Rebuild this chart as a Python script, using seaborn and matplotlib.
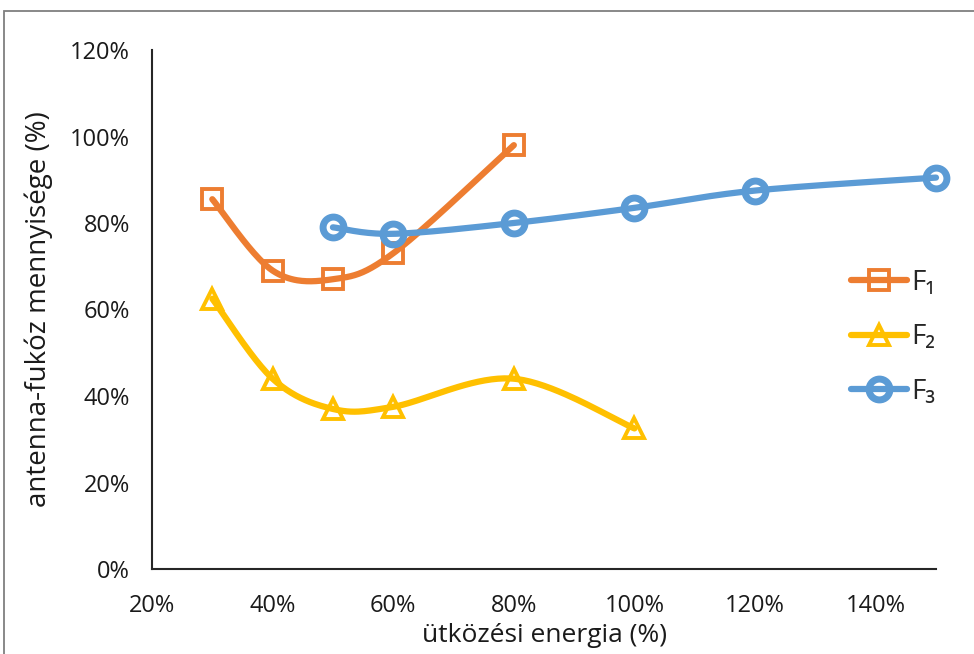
import numpy as np
import pandas as pd
import matplotlib
matplotlib.use("Agg")
import matplotlib.pyplot as plt
from matplotlib.patches import Rectangle
from matplotlib.lines import Line2D
from matplotlib.ticker import FuncFormatter, MultipleLocator
import seaborn as sns

# Collision energy (%) and antenna fucose amount (%) per fraction
f1_x = [30, 40, 50, 60, 80]
f1_y = [85.5, 69, 67, 73, 98]
f2_x = [30, 40, 50, 60, 80, 100]
f2_y = [62.5, 44, 37, 37.5, 44, 32.5]
f3_x = [50, 60, 80, 100, 120, 150]
f3_y = [79, 77.5, 80, 83.5, 87.5, 90.5]

series_names = ["F\u2081", "F\u2082", "F\u2083"]
x_ticks = [20, 40, 60, 80, 100, 120, 140]
x_label = "ütközési energia (%)"
y_label = "antenna-fukóz mennyisége (%)"

sns.set_theme(style="white")
plt.rcParams["font.family"] = ["Open Sans", "DejaVu Sans"]


def smooth(xs, ys, n=40):
    """Cubic Bezier smoothing through every point (Catmull-Rom style)."""
    p = np.column_stack([xs, ys]).astype(float)
    p_ext = np.vstack([p[0], p, p[-1]])
    out = []
    for i in range(len(p) - 1):
        p0, p1, p2, p3 = p_ext[i], p_ext[i + 1], p_ext[i + 2], p_ext[i + 3]
        c1 = p1 + (p2 - p0) / 6.0
        c2 = p2 - (p3 - p1) / 6.0
        t = np.linspace(0, 1, n)[:, None]
        seg = ((1 - t) ** 3) * p1 + 3 * ((1 - t) ** 2) * t * c1 + 3 * (1 - t) * t ** 2 * c2 + t ** 3 * p2
        out.append(seg if i == 0 else seg[1:])
    s = np.vstack(out)
    return s[:, 0], s[:, 1]


fig = plt.figure(figsize=(9.74, 6.54), dpi=100)
ax = fig.add_axes([152 / 974, 1 - 569 / 654, (936 - 152) / 974, (569 - 50) / 654])

styles = [
    (f1_x, f1_y, "#ED7D31", "s", 14, 2.8),
    (f2_x, f2_y, "#FFC000", "^", 15, 2.8),
    (f3_x, f3_y, "#5B9BD5", "o", 15, 5.0),
]

handles = []
for (xs, ys, color, marker, ms, mew), name in zip(styles, series_names):
    sx, sy = smooth(xs, ys)
    df = pd.DataFrame({"x": sx, "y": sy})
    sns.lineplot(data=df, x="x", y="y", ax=ax, color=color, lw=4.5, sort=False,
                 estimator=None, solid_capstyle="round", clip_on=False)
    ax.plot(xs, ys, ls="none", marker=marker, ms=ms, mfc="none", mec=color, mew=mew,
            zorder=3, clip_on=False)
    handles.append(Line2D([0], [0], color=color, lw=4.5, marker=marker, ms=ms,
                          mfc="none", mec=color, mew=mew, solid_capstyle="round"))

ax.set_xlim(20, 150)
ax.set_ylim(0, 120)
ax.set_xticks(x_ticks)
ax.yaxis.set_major_locator(MultipleLocator(20))
pct = FuncFormatter(lambda v, _: f"{v:.0f}%")
ax.xaxis.set_major_formatter(pct)
ax.yaxis.set_major_formatter(pct)

for side in ["top", "right"]:
    ax.spines[side].set_visible(False)
for side in ["left", "bottom"]:
    ax.spines[side].set_color("#262626")
    ax.spines[side].set_linewidth(1.5)

ax.tick_params(axis="both", which="major", direction="out", length=6, width=1.3,
               color="#262626", labelsize=17, labelcolor="#1a1a1a")
ax.tick_params(axis="x", pad=12)
ax.tick_params(axis="y", pad=10)

ax.set_xlabel(x_label, fontsize=19, color="#1a1a1a")
ax.set_ylabel(y_label, fontsize=20, color="#1a1a1a", labelpad=12)
ax.xaxis.set_label_coords(0.50, -0.105)

leg = ax.legend(handles, series_names, loc="upper left", bbox_to_anchor=(0.892, 0.578),
                frameon=False, fontsize=20, handlelength=2.0, handletextpad=0.15,
                labelspacing=0.95, borderaxespad=0, borderpad=0)

# outer frame of the figure
fig.patches.append(Rectangle((3.5 / 974, -0.05), 1.2, 1 - 10.5 / 654 + 0.05,
                             transform=fig.transFigure, fill=False,
                             edgecolor="#7f7f7f", lw=1.3))

fig.savefig("out.png", dpi=100)
